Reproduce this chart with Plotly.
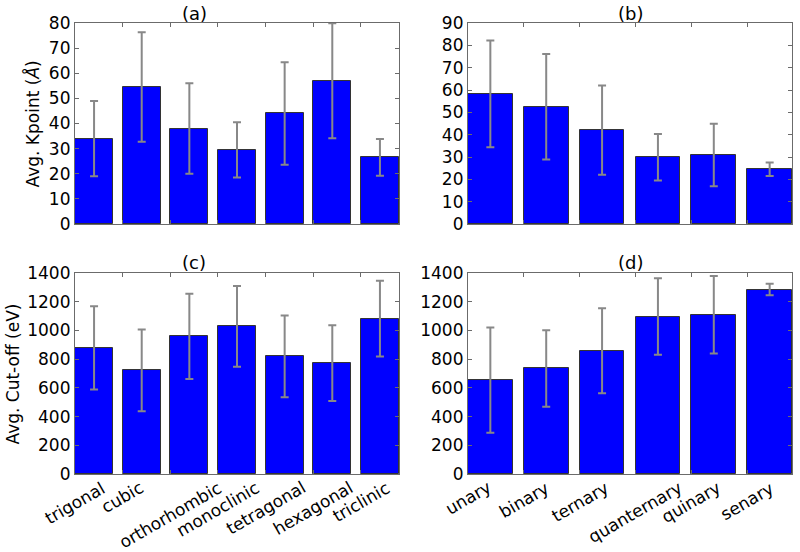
import plotly.graph_objects as go

# crystal systems (panels a, c)
crystal = ['trigonal', 'cubic', 'orthorhombic', 'monoclinic', 'tetragonal', 'hexagonal', 'triclinic']
kpt_crystal = [34, 54.5, 38, 29.5, 44, 57, 26.5]
kpt_crystal_err = [15, 21.8, 18, 11, 20.4, 22.9, 7.3]
cut_crystal = [878, 722, 958, 1028, 819, 773, 1083]
cut_crystal_err = [290, 285, 297, 281, 285, 264, 264]

# number of elements (panels b, d)
arity = ['unary', 'binary', 'ternary', 'quanternary', 'quinary', 'senary']
kpt_arity = [58.3, 52.5, 42, 29.9, 30.9, 24.5]
kpt_arity_err = [23.9, 23.6, 20, 10.4, 14, 3]
cut_arity = [654, 735, 858, 1097, 1109, 1285]
cut_arity_err = [366, 266, 296, 267, 270, 40]

FONT = 'DejaVu Sans'
FS = 17
BLUE = '#0000ff'
FRAME = '#6b6b6b'

fig = go.Figure()

panels = [
    # axis suffix, categories, values, errors, x domain, y domain, y max, y dtick
    ('', crystal, kpt_crystal, kpt_crystal_err, [0.09375, 0.49875], [0.5942, 0.9583], 80, 10),
    ('2', arity, kpt_arity, kpt_arity_err, [0.585, 0.99], [0.5942, 0.9583], 90, 10),
    ('3', crystal, cut_crystal, cut_crystal_err, [0.09375, 0.49875], [0.1413, 0.5054], 1400, 200),
    ('4', arity, cut_arity, cut_arity_err, [0.585, 0.99], [0.1413, 0.5054], 1400, 200),
]

layout = {}
annotations = []
for suf, cats, vals, errs, xd, yd, ymax, dt in panels:
    n = len(cats)
    fig.add_trace(go.Bar(
        x=[i + 0.4 for i in range(n)], y=vals, width=0.8,
        marker=dict(color=BLUE, line=dict(color='#333333', width=1)),
        error_y=dict(type='data', array=errs, color='#888888', thickness=2, width=4),
        xaxis='x' + suf, yaxis='y' + suf, showlegend=False,
    ))
    axis_common = dict(showline=True, mirror='ticks', linecolor=FRAME, linewidth=1.2,
                       ticks='inside', tickcolor=FRAME, ticklen=4, showgrid=False,
                       zeroline=False, automargin=False)
    layout['xaxis' + suf] = dict(axis_common, domain=xd, range=[0, n - 0.2],
                                 tickvals=list(range(n)), showticklabels=False,
                                 anchor='y' + suf)
    layout['yaxis' + suf] = dict(axis_common, domain=yd, range=[0, ymax], dtick=dt,
                                 anchor='x' + suf,
                                 tickfont=dict(family=FONT, size=FS, color='black'))

    # rotated category labels under the bottom panels
    if suf in ('3', '4'):
        for i, c in enumerate(cats):
            annotations.append(dict(
                x=i, y=yd[0] - 0.004, xref='x' + suf, yref='paper', text=c,
                textangle=-30, xanchor='center', yanchor='top', showarrow=False,
                borderpad=0, font=dict(family=FONT, size=FS, color='black')))

titles = ['(a)', '(b)', '(c)', '(d)']
centers = [(0.2431, 0.9764), (0.7875, 0.9764), (0.2431, 0.5236), (0.7875, 0.5236)]
for t, (cx, cy) in zip(titles, centers):
    annotations.append(dict(x=cx, y=cy, xref='paper', yref='paper', text=t,
                            xanchor='center', yanchor='middle', showarrow=False,
                            font=dict(family=FONT, size=FS + 1, color='black')))

annotations.append(dict(x=0.041, y=0.776, xref='paper', yref='paper',
                        text='Avg. Kpoint (<i>Å</i>)', textangle=-90, showarrow=False,
                        xanchor='center', yanchor='middle',
                        font=dict(family=FONT, size=FS, color='black')))
annotations.append(dict(x=0.016, y=0.323, xref='paper', yref='paper',
                        text='Avg. Cut-off (eV)', textangle=-90, showarrow=False,
                        xanchor='center', yanchor='middle',
                        font=dict(family=FONT, size=FS, color='black')))

fig.update_layout(
    width=800, height=552,
    margin=dict(l=0, r=0, t=0, b=0, autoexpand=False),
    plot_bgcolor='white', paper_bgcolor='white',
    bargap=0, annotations=annotations,
    **layout,
)

# the default page body has an 8px margin; drop it so the figure fills the window
fig.write_html("out.html", config={'displayModeBar': False},
               post_script="document.body.style.margin='0';")
